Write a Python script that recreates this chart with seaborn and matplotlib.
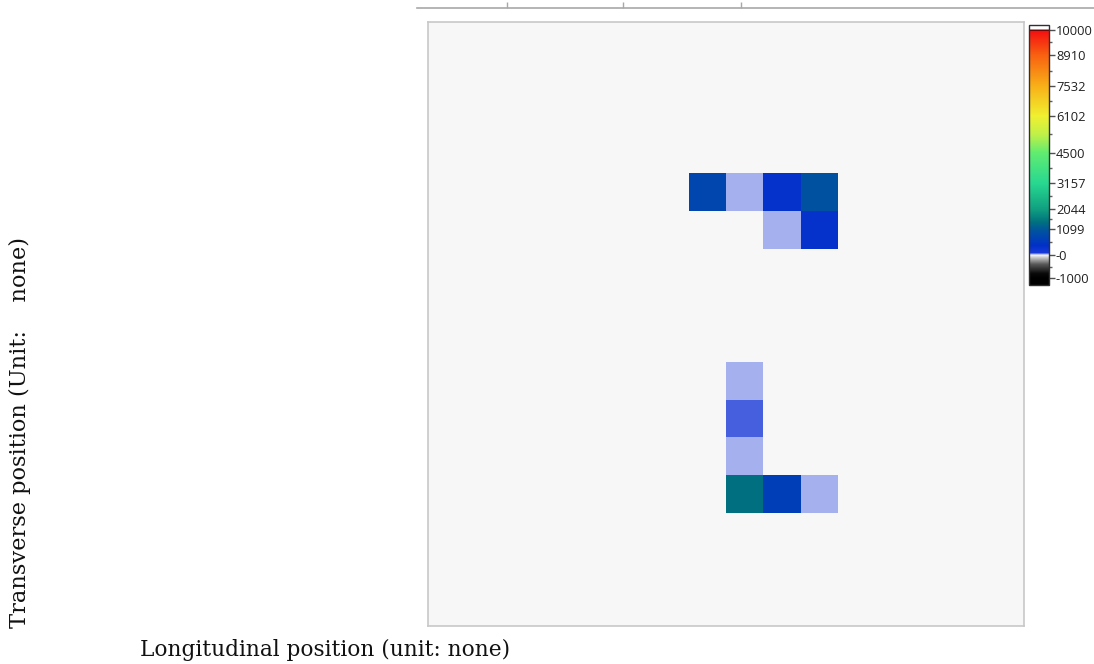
import numpy as np
import pandas as pd
import matplotlib
matplotlib.use("Agg")
import matplotlib.pyplot as plt
import seaborn as sns
from matplotlib.colors import FuncNorm, LinearSegmentedColormap
from matplotlib.ticker import FixedLocator

# Grid size (cells along each direction)
n_long = 16
n_trans = 16

# Occupied cells: (row, column) and their measured values
rows = [4, 4, 4, 4, 5, 5, 9, 10, 11, 12, 12, 12]
cols = [7, 8, 9, 10, 9, 10, 8, 8, 8, 8, 9, 10]
values = [790, 35, 330, 1000, 35, 330, 35, 82, 35, 1420, 650, 35]

# Colour-bar tick values and labels
cbar_ticks = [10000, 8910, 7532, 6102, 4500, 3157, 2044, 1099, 0, -1000]
cbar_labels = ["10000", "8910", "7532", "6102", "4500", "3157", "2044", "1099", "-0", "-1000"]

# Piecewise scale: value -> position along the colour bar
scale_vals = [-1200, -1000, 0, 1099, 2044, 3157, 4500, 6102, 7532, 8910, 10000, 10200]
scale_pos = [0.0, 0.027, 0.115, 0.215, 0.292, 0.392, 0.508, 0.650, 0.765, 0.885, 0.981, 1.0]


def fwd(x):
    return np.interp(x, scale_vals, scale_pos)


def inv(p):
    return np.interp(p, scale_pos, scale_vals)


norm = FuncNorm((fwd, inv), vmin=scale_vals[0], vmax=scale_vals[-1])

# Colour ramp: black -> grey -> white -> blue -> teal -> green -> yellow -> orange -> red
ramp = [
    (-1200, "#000000"), (-1000, "#000000"), (-800, "#0a0a0a"), (-400, "#5a5a5a"),
    (-120, "#c4c4c4"), (0, "#f4f4fa"), (100, "#1838d8"), (400, "#0030c8"),
    (1099, "#00589a"), (1420, "#00707f"), (2044, "#10a080"), (3157, "#28d890"),
    (4500, "#60ec70"), (5300, "#c0f048"), (6102, "#f0f030"), (7532, "#f8b018"),
    (8910, "#f86010"), (9950, "#f41010"),
]
stops = [(float(fwd(v)), c) for v, c in ramp]
top_red = float(fwd(9950))
stops += [(top_red + 0.004, "#400000"), (top_red + 0.009, "#ffffff"), (1.0, "#ffffff")]
cmap = LinearSegmentedColormap.from_list("field", stops, N=1024)

grid = np.full((n_trans, n_long), np.nan)
for r, c, v in zip(rows, cols, values):
    grid[r, c] = v
df = pd.DataFrame(grid)

sns.set_theme(style="white")
fig = plt.figure(figsize=(10.94, 6.64), dpi=100)
W, H = 1094, 664

ax = fig.add_axes([428 / W, (H - 626) / H, 596 / W, 604 / H])
cax = fig.add_axes([1029 / W, (H - 285) / H, 20 / W, 260 / H])

sns.heatmap(df, ax=ax, cmap=cmap, norm=norm, cbar=True, cbar_ax=cax,
            xticklabels=False, yticklabels=False, linewidths=0)

ax.set_facecolor("#f7f7f7")
for s in ax.spines.values():
    s.set_visible(True)
    s.set_color("#c8c8c8")
    s.set_linewidth(1.2)
ax.set_xlabel("")
ax.set_ylabel("")

# Colour bar styling
cbar = ax.collections[0].colorbar
cbar.outline.set_edgecolor("#303030")
cbar.outline.set_linewidth(1.0)
cbar.set_ticks(cbar_ticks)
cbar.set_ticklabels(cbar_labels)
tick_pos = sorted(fwd(np.array(cbar_ticks)))
mid_vals = inv((np.array(tick_pos[:-1]) + np.array(tick_pos[1:])) / 2)
cax.yaxis.set_minor_locator(FixedLocator(list(mid_vals)))
cax.tick_params(axis="y", which="major", length=4, width=1, color="#505050",
                pad=1, labelsize=9.3, labelcolor="#202020")
cax.tick_params(axis="y", which="minor", length=2.5, width=1, color="#606060")
for t in cax.get_yticklabels():
    t.set_fontfamily(["Open Sans", "DejaVu Sans"])

# Thin ruler along the top edge
rax = fig.add_axes([417 / W, (H - 8) / H, (W - 417) / W, 0.0001])
rax.set_xlim(417, W)
rax.set_xticks([507, 623, 741])
rax.set_xticklabels([])
rax.set_yticks([])
for k, s in rax.spines.items():
    s.set_visible(k == "top")
rax.spines["top"].set_color("#a8a8a8")
rax.spines["top"].set_linewidth(1.2)
rax.xaxis.set_ticks_position("top")
rax.tick_params(axis="x", direction="out", length=4, width=1, color="#a8a8a8")
rax.patch.set_visible(False)

# Axis titles
serif = ["DejaVu Serif"]
fig.text(140 / W, (H - 650) / H, "Longitudinal position (unit: none)",
         ha="left", va="center", fontsize=15.6, family=serif, color="#111111")
fig.text(20 / W, (H - 432) / H, "Transverse position (Unit:    none)",
         ha="center", va="center", rotation=90, fontsize=16.2, family=serif,
         color="#111111")

fig.savefig("out.png", dpi=100)
